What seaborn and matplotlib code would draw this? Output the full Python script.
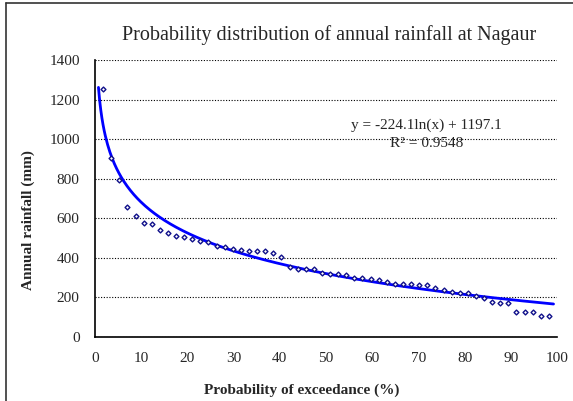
import numpy as np
import pandas as pd
import matplotlib
matplotlib.use("Agg")
import matplotlib.pyplot as plt
import seaborn as sns
from matplotlib.ticker import MultipleLocator
from matplotlib.lines import Line2D

# ---- data ----
exceedance = [1.75, 3.51, 5.26, 7.02, 8.77, 10.53, 12.28, 14.04, 15.79, 17.54,
              19.30, 21.05, 22.81, 24.56, 26.32, 28.07, 29.82, 31.58, 33.33, 35.09,
              36.84, 38.60, 40.35, 42.11, 43.86, 45.61, 47.37, 49.12, 50.88, 52.63,
              54.39, 56.14, 57.89, 59.65, 61.40, 63.16, 64.91, 66.67, 68.42, 70.18,
              71.93, 73.68, 75.44, 77.19, 78.95, 80.70, 82.46, 84.21, 85.96, 87.72,
              89.47, 91.23, 92.98, 94.74, 96.49, 98.25]
rainfall = [1252, 906, 792, 655, 610, 578, 570, 541, 524, 508,
            504, 495, 486, 478, 462, 457, 445, 442, 437, 436,
            435, 423, 402, 353, 346, 344, 345, 324, 319, 316,
            312, 297, 297, 291, 289, 277, 268, 268, 266, 265,
            263, 247, 240, 227, 222, 220, 206, 199, 175, 171,
            171, 128, 128, 128, 104, 104]
trend_slope = -224.1
trend_intercept = 1197.1
r_squared = 0.9548

title = "Probability distribution of annual rainfall at Nagaur"
xlabel = "Probability of exceedance (%)"
ylabel = "Annual rainfall (mm)"

sns.set_style("white")
plt.rcParams["font.family"] = ["Liberation Serif", "DejaVu Serif"]

W, H = 573, 401
fig = plt.figure(figsize=(W / 100, H / 100), dpi=100)
ax = fig.add_axes([95 / W, 1 - 337 / H, (557 - 95) / W, (337 - 60) / H])

df = pd.DataFrame({"x": exceedance, "y": rainfall})
xt = np.linspace(exceedance[0] - 1, exceedance[-1] + 1, 400)
trend = pd.DataFrame({"x": xt, "y": trend_intercept + trend_slope * np.log(xt)})

sns.lineplot(data=trend, x="x", y="y", ax=ax, color="#0000FF", lw=2.0, zorder=3)
sns.scatterplot(data=df, x="x", y="y", ax=ax, marker="D", s=6,
                facecolor="white", edgecolor="#10108a", linewidth=1.0, zorder=4)

ax.set_xlim(0, 100)
ax.set_ylim(0, 1400)
ax.xaxis.set_major_locator(MultipleLocator(10))
ax.xaxis.set_minor_locator(MultipleLocator(5))
ax.yaxis.set_major_locator(MultipleLocator(200))
ax.yaxis.set_minor_locator(MultipleLocator(40))
ax.tick_params(axis="both", which="major", direction="in", length=5, width=1,
               labelsize=11, color="black")
ax.tick_params(axis="both", which="minor", direction="in", length=3, width=1,
               color="black")
ax.tick_params(axis="x", which="major", pad=11)
ax.tick_params(axis="y", which="major", pad=11)
ax.yaxis.grid(True, which="major", linestyle=(0, (1, 1.5)), color="black", lw=0.8)
ax.xaxis.grid(False)
for s in ["top", "right"]:
    ax.spines[s].set_visible(False)
for s in ["left", "bottom"]:
    ax.spines[s].set_color("black")
    ax.spines[s].set_linewidth(1.2)
ax.set_xlabel("")
ax.set_ylabel("")

fig.text(329 / W, 1 - 35 / H, title, ha="center", va="center", fontsize=14.5)
fig.text(302 / W, 1 - 390 / H, xlabel, ha="center", va="center",
         fontsize=11, fontweight="bold")
fig.text(28 / W, 1 - 220 / H, ylabel, ha="center", va="center",
         fontsize=11, fontweight="bold", rotation=90)

ax.text(71.8, 1072, f"y = {trend_slope}ln(x) + {trend_intercept}", ha="center",
        va="center", fontsize=11)
ax.text(71.8, 976, f"R² = {r_squared}", ha="center", va="center", fontsize=11)

# chart-area border (top and left visible in the reference)
fig.add_artist(Line2D([6 / W, 6 / W], [0, 1 - 3 / H], transform=fig.transFigure,
                      color="#333333", lw=1.2))
fig.add_artist(Line2D([6 / W, 1], [1 - 3 / H, 1 - 3 / H], transform=fig.transFigure,
                      color="#333333", lw=1.2))

fig.savefig("out.png", dpi=100, facecolor="white")
